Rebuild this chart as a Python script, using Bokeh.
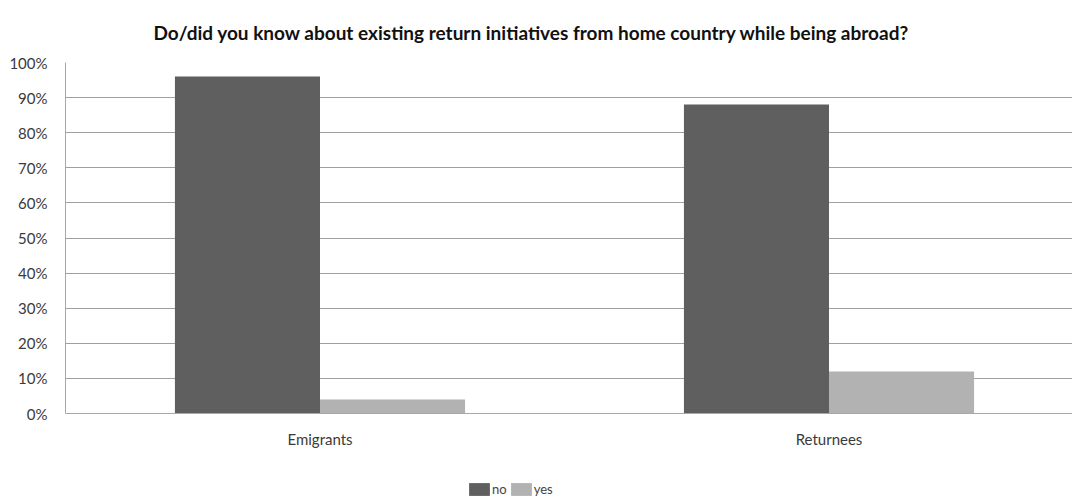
import numpy as np
from bokeh.plotting import figure
from bokeh.layouts import column
from bokeh.models import Range1d, FixedTicker, NumeralTickFormatter, Legend, LegendItem, ColumnDataSource
from bokeh.embed import file_html
from bokeh.resources import INLINE

categories = ["Emigrants", "Returnees"]
no_values = [0.96, 0.88]
yes_values = [0.04, 0.12]
series_names = ["no", "yes"]
y_ticks = [0.0, 0.1, 0.2, 0.3, 0.4, 0.5, 0.6, 0.7, 0.8, 0.9, 1.0]
colors = ["#5f5f5f", "#b2b2b2"]

pos = np.arange(len(categories)) + 0.5
bw = 0.285
source = ColumnDataSource(dict(x_no=pos - bw / 2, x_yes=pos + bw / 2, no=no_values, yes=yes_values))

FONT = "Lato"
W = 1072
H_MAIN, H_LEG = 480, 17
left, top, bottom = 65, 62, 67
band = 509.0
p = figure(x_range=Range1d(0, (W - left) / band), y_range=Range1d(0, 1),
           width=W, height=H_MAIN, output_backend="svg", toolbar_location=None,
           min_border_left=left, min_border_right=0, min_border_top=top, min_border_bottom=bottom)
p.outline_line_color = None

p.title.text = "Do/did you know about existing return initiatives from home country while being abroad?"
p.title.text_font = FONT
p.title.text_font_size = "19px"
p.title.text_font_style = "bold"
p.title.text_color = "#111111"
p.title.align = "left"
p.title.offset = 88
p.title.standoff = 37

p.vbar(x="x_no", top="no", width=bw, source=source, fill_color=colors[0], line_color=None)
p.vbar(x="x_yes", top="yes", width=bw, source=source, fill_color=colors[1], line_color=None)

p.xgrid.grid_line_color = None
p.ygrid.grid_line_color = "#a0a0a0"
p.ygrid.grid_line_width = 1
p.yaxis.ticker = FixedTicker(ticks=y_ticks)
p.yaxis.formatter = NumeralTickFormatter(format="0%")
p.xaxis.ticker = FixedTicker(ticks=list(pos))
p.xaxis.major_label_overrides = {float(v): c for v, c in zip(pos, categories)}
for ax in (p.xaxis, p.yaxis):
    ax.major_tick_line_color = None
    ax.minor_tick_line_color = None
    ax.axis_line_color = "#a8a8a8"
    ax.major_label_text_font = FONT
    ax.major_label_text_font_size = "15px"
    ax.major_label_text_color = "#3a3a3a"
p.yaxis.major_label_standoff = 12
p.xaxis.major_label_standoff = 10

# legend strip below the chart (its renderers sit outside its visible y range)
lg = figure(x_range=Range1d(0, 1), y_range=Range1d(5, 6),
            width=W, height=H_LEG, output_backend="svg", toolbar_location=None,
            x_axis_location=None, y_axis_location=None,
            min_border_left=0, min_border_right=0, min_border_top=0, min_border_bottom=0)
lg.outline_line_color = None
lg.grid.visible = False
l_no = lg.vbar(x="x_no", top="no", width=bw, source=source, fill_color=colors[0], line_color=None)
l_yes = lg.vbar(x="x_yes", top="yes", width=bw, source=source, fill_color=colors[1], line_color=None)

legend = Legend(items=[LegendItem(label=series_names[0], renderers=[l_no]),
                       LegendItem(label=series_names[1], renderers=[l_yes])],
                orientation="horizontal", location=(401, 0))
legend.label_text_font = FONT
legend.label_text_font_size = "13px"
legend.label_text_color = "#444444"
legend.glyph_width = 26
legend.glyph_height = 16
legend.label_height = 16
legend.label_width = 14
legend.label_standoff = 0
legend.spacing = 1
legend.padding = 0
legend.margin = 0
legend.border_line_color = None
legend.background_fill_alpha = 0
lg.add_layout(legend, "center")

open("out.html", "w").write(file_html(column(p, lg, spacing=0), INLINE))
